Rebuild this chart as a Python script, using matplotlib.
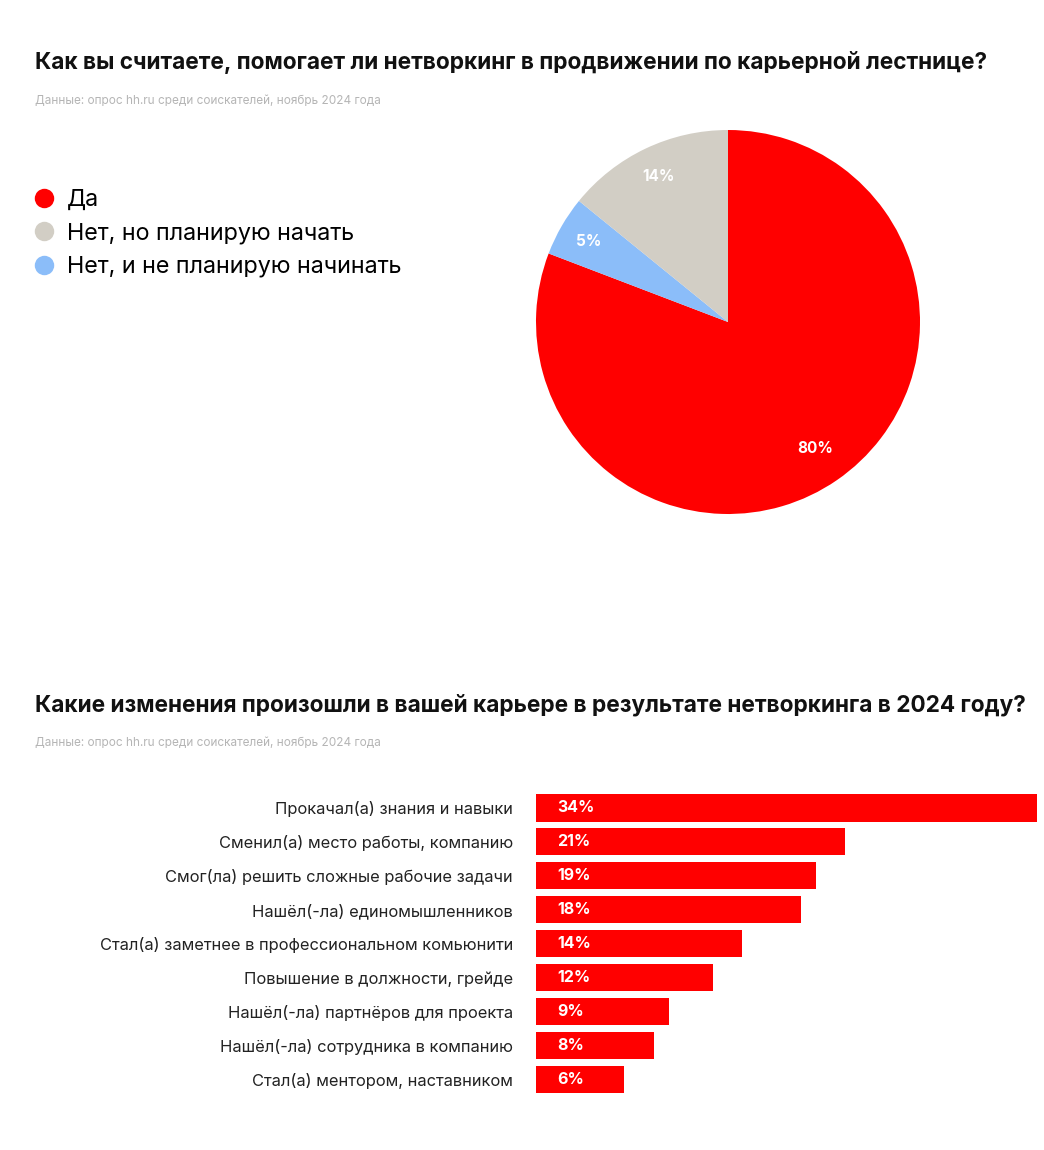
import matplotlib.pyplot as plt
import numpy as np
from matplotlib.lines import Line2D

plt.rcParams["font.family"] = ["Inter", "DejaVu Sans"]

# ---- данные ----
pie_labels = ["Да", "Нет, и не планирую начинать", "Нет, но планирую начать"]
pie_values = [80, 5, 14]
pie_colors = ["#FF0000", "#8BBDF9", "#D2CEC5"]
legend_order = [0, 2, 1]

bar_labels = [
    "Прокачал(а) знания и навыки",
    "Сменил(а) место работы, компанию",
    "Смог(ла) решить сложные рабочие задачи",
    "Нашёл(-ла) единомышленников",
    "Стал(а) заметнее в профессиональном комьюнити",
    "Повышение в должности, грейде",
    "Нашёл(-ла) партнёров для проекта",
    "Нашёл(-ла) сотрудника в компанию",
    "Стал(а) ментором, наставником",
]
bar_values = [34, 21, 19, 18, 14, 12, 9, 8, 6]

title1 = "Как вы считаете, помогает ли нетворкинг в продвижении по карьерной лестнице?"
title2 = "Какие изменения произошли в вашей карьере в результате нетворкинга в 2024 году?"
source = "Данные: опрос hh.ru среди соискателей, ноябрь 2024 года"

W, H = 1044, 1150
fig = plt.figure(figsize=(W / 100, H / 100), dpi=100, facecolor="white")


def fx(px):
    return px / W


def fy(py):
    return 1 - py / H


# ---- заголовки ----
fig.text(fx(35), fy(63), title1, fontsize=16.3, fontweight="bold", va="center", color="#111111")
fig.text(fx(35), fy(101), source, fontsize=8.5, va="center", color="#B5B5B5")
fig.text(fx(35), fy(705), title2, fontsize=16.3, fontweight="bold", va="center", color="#111111")
fig.text(fx(35), fy(743), source, fontsize=8.5, va="center", color="#B5B5B5")

# ---- круговая диаграмма ----
cx, cy, r = 728, 322, 192
ax1 = fig.add_axes([fx(cx - r), fy(cy + r), (2 * r) / W, (2 * r) / H])
wedges, _ = ax1.pie(pie_values, colors=pie_colors, startangle=90, counterclock=False,
                    radius=1, wedgeprops=dict(linewidth=0))
for w, v in zip(wedges, pie_values):
    ang = np.deg2rad((w.theta1 + w.theta2) / 2)
    d = 0.8 if v > 50 else 0.84
    ax1.text(d * np.cos(ang), d * np.sin(ang), f"{v}%", ha="center", va="center",
             color="white", fontsize=11, fontweight="bold")
ax1.set_xlim(-1, 1)
ax1.set_ylim(-1, 1)
ax1.set_aspect("equal")
ax1.axis("off")

handles = [Line2D([], [], marker="o", linestyle="none", markersize=14,
                  markerfacecolor=pie_colors[i], markeredgewidth=0) for i in legend_order]
fig.legend(handles, [pie_labels[i] for i in legend_order], loc="upper left",
           bbox_to_anchor=(fx(23), fy(180)), frameon=False, fontsize=16.8,
           handlelength=1.0, handletextpad=0.48, labelspacing=0.48, borderaxespad=0)

# ---- столбцы ----
ax2 = fig.add_axes([fx(536), fy(1096), (1037 - 536) / W, (1096 - 791) / H])
y = np.arange(len(bar_values))
ax2.barh(y, bar_values, height=0.8, color="#FF0000", linewidth=0)
ax2.set_xlim(0, 34)
ax2.set_ylim(len(bar_values) - 0.5, -0.5)
for i, v in enumerate(bar_values):
    ax2.text(1.45, i, f"{v}%", ha="left", va="center", color="white",
             fontsize=11.5, fontweight="bold")
ax2.set_yticks(y)
ax2.set_yticklabels(bar_labels, fontsize=11.85, color="#222222")
ax2.tick_params(axis="y", length=0, pad=16.5)
ax2.set_xticks([])
for s in ax2.spines.values():
    s.set_visible(False)

fig.savefig("out.png", dpi=100, facecolor="white")
